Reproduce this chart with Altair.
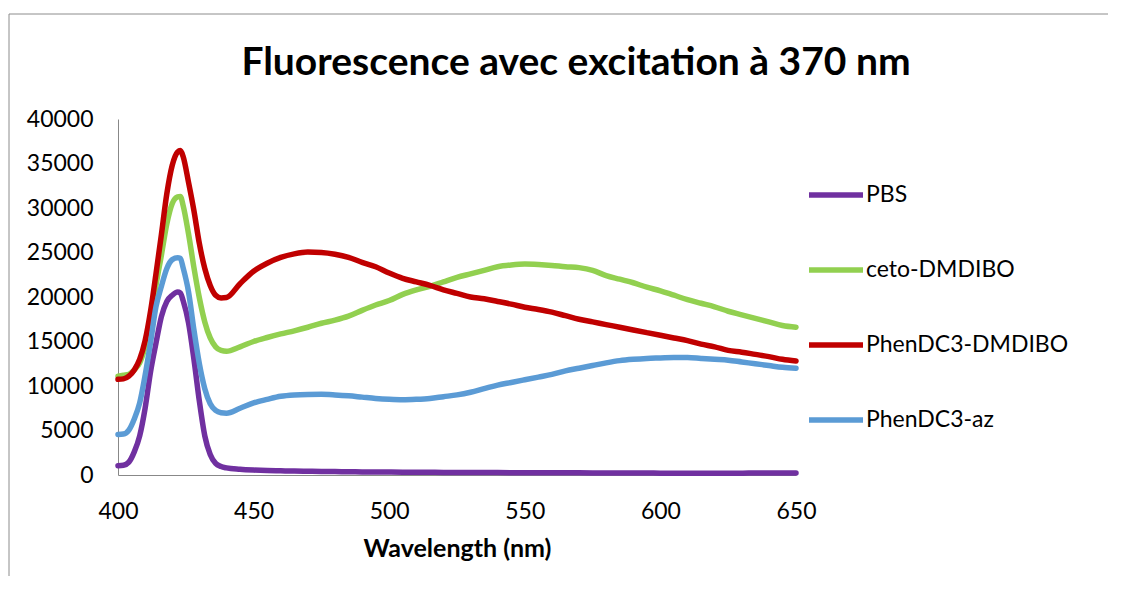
import altair as alt
import pandas as pd

TITLE = "Fluorescence avec excitation à 370 nm"
X_TITLE = "Wavelength (nm)"
SERIES = ["PBS", "ceto-DMDIBO", "PhenDC3-DMDIBO", "PhenDC3-az"]
COLORS = ["#7030A0", "#92D050", "#C00000", "#5B9BD5"]
X_TICKS = [400, 450, 500, 550, 600, 650]
Y_TICKS = [0, 5000, 10000, 15000, 20000, 25000, 30000, 35000, 40000]

WAVELENGTH = [400, 402, 404, 406, 408, 410, 412, 414, 416, 418, 420, 422, 423, 424, 426, 428,
              430, 432, 434, 436, 438, 440, 445, 450, 455, 460, 465, 470, 475, 480, 485, 490,
              495, 500, 505, 510, 515, 520, 525, 530, 535, 540, 545, 550, 555, 560, 565, 570,
              575, 580, 585, 590, 595, 600, 605, 610, 615, 620, 625, 630, 635, 640, 645, 650]

PBS = [1050, 1100, 1450, 2600, 4400, 7500, 11600, 14800, 17800, 19500, 20200, 20550, 20450, 19600, 17100, 13000,
       8300, 4400, 2300, 1300, 950, 800, 650, 560, 500, 470, 440, 420, 400, 380, 370, 350,
       340, 330, 320, 310, 300, 290, 285, 280, 275, 270, 265, 260, 255, 250, 245, 240,
       235, 230, 225, 220, 215, 210, 210, 205, 205, 205, 210, 210, 215, 215, 220, 220]

CETO = [11100, 11200, 11300, 11800, 12600, 14400, 17200, 21300, 24700, 28200, 30500, 31250, 31300, 30300, 27100, 23300,
        19900, 17200, 15400, 14400, 14000, 13900, 14400, 15000, 15450, 15850, 16200, 16600, 17050, 17400, 17850, 18500,
        19100, 19600, 20300, 20800, 21200, 21700, 22200, 22600, 23000, 23400, 23600, 23700, 23650, 23550, 23400, 23300,
        23000, 22400, 22000, 21600, 21100, 20700, 20200, 19700, 19300, 18900, 18400, 18000, 17600, 17200, 16800, 16600]

PHEN_DMDIBO = [10750, 10800, 11100, 11800, 13000, 15100, 18400, 22600, 27000, 31600, 34800, 36300, 36450, 35800, 32900, 29700,
               26000, 23200, 21300, 20200, 19900, 19950, 21500, 22900, 23800, 24450, 24850, 25050, 25000, 24800, 24450, 23900,
               23400, 22700, 22100, 21700, 21300, 20800, 20400, 20000, 19800, 19500, 19200, 18850, 18600, 18300, 17900, 17500,
               17200, 16900, 16600, 16300, 16000, 15700, 15400, 15100, 14700, 14400, 14000, 13800, 13550, 13300, 13000, 12800]

PHEN_AZ = [4550, 4600, 5050, 6300, 8100, 11200, 14900, 18900, 21200, 23200, 24200, 24400, 24350, 23300, 20600, 16300,
           12500, 9700, 8000, 7250, 7000, 6950, 7500, 8100, 8500, 8850, 9000, 9050, 9060, 9000, 8900, 8750,
           8600, 8500, 8450, 8500, 8600, 8800, 9000, 9300, 9700, 10100, 10400, 10700, 11000, 11300, 11700, 12000,
           12300, 12600, 12850, 13000, 13100, 13150, 13200, 13200, 13100, 13000, 12900, 12700, 12500, 12300, 12100, 12000]

VALUES = [PBS, CETO, PHEN_DMDIBO, PHEN_AZ]

rows = []
for name, vals in zip(SERIES, VALUES):
    for w, v in zip(WAVELENGTH, vals):
        rows.append({"wavelength": w, "intensity": v, "series": name})
df = pd.DataFrame(rows)

FONT = "Lato"
W, H = 678, 356

color = alt.Color(
    "series:N",
    scale=alt.Scale(domain=SERIES, range=COLORS),
    legend=alt.Legend(
        title=None, orient="none", legendX=688, legendY=46,
        symbolType="stroke", symbolSize=2916, symbolStrokeWidth=5.5,
        labelFontSize=23, labelFont=FONT, labelColor="black", labelLimit=0,
        rowPadding=33, labelOffset=0, padding=0,
    ),
)

x = alt.X(
    "wavelength:Q",
    scale=alt.Scale(domain=[400, 650], nice=False, zero=False),
    axis=alt.Axis(
        values=X_TICKS, title=X_TITLE, grid=False, ticks=False, tickSize=0,
        labelPadding=25, labelFontSize=23, labelFont=FONT, labelColor="black",
        labelFlush=False, titleFontSize=25, titleFont=FONT, titleFontWeight="bold",
        titleColor="black", titlePadding=13, domainColor="#888888", domainWidth=1,
    ),
)
y = alt.Y(
    "intensity:Q",
    scale=alt.Scale(domain=[0, 40000], nice=False),
    axis=alt.Axis(
        values=Y_TICKS, title=None, grid=False, ticks=False, tickSize=0, format="d",
        labelPadding=25, labelFontSize=23, labelFont=FONT, labelColor="black",
        domainColor="#888888", domainWidth=1,
    ),
)

layers = []
for name in SERIES:
    layers.append(
        alt.Chart(df)
        .transform_filter(alt.datum.series == name)
        .mark_line(strokeWidth=5.5, strokeCap="round", strokeJoin="round", interpolate="monotone")
        .encode(x=x, y=y, color=color)
    )

one = pd.DataFrame({"t": [TITLE]})
title = alt.Chart(one).mark_text(
    font=FONT, fontSize=39, fontWeight="bold", align="center", baseline="alphabetic", color="black"
).encode(text="t:N", x=alt.value(458), y=alt.value(-44))

border_v = alt.Chart(one).mark_rule(color="#8c8c8c", strokeWidth=1).encode(
    x=alt.value(-109), y=alt.value(-105), y2=alt.value(457)
)
border_h = alt.Chart(one).mark_rule(color="#8c8c8c", strokeWidth=1).encode(
    x=alt.value(-109), x2=alt.value(990), y=alt.value(-105)
)

chart = (
    alt.layer(border_v, border_h, title, *layers)
    .properties(width=W, height=H, padding={"left": 0, "top": 5, "right": 0, "bottom": 0})
    .configure(background="white")
    .configure_view(strokeWidth=0)
)

chart.save("out.html", embed_options={"renderer": "svg", "actions": False})
